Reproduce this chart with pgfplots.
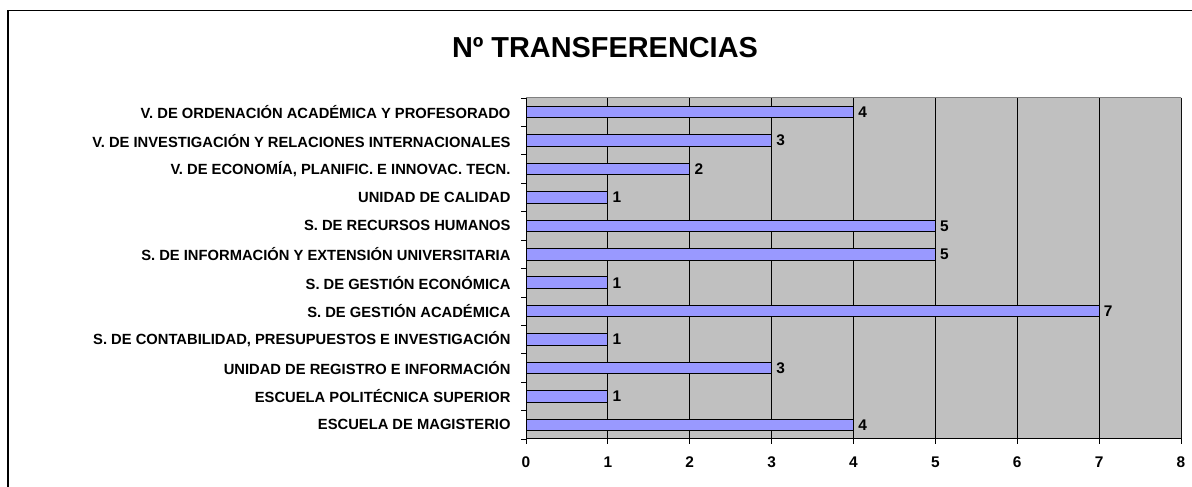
\documentclass[border=0pt]{standalone}
\usepackage{pgfplots}
\usepackage{pgfplotstable}
\pgfplotsset{compat=1.18}
\usepackage{fontspec}
\setmainfont{Liberation Sans}
\definecolor{plotgray}{HTML}{C0C0C0}
\definecolor{barblue}{HTML}{9999FF}
\definecolor{bordergray}{HTML}{808080}
\pgfplotstableread{
y v
0 4
1 1
2 3
3 1
4 7
5 1
6 5
7 5
8 1
9 2
10 3
11 4
}\datatable
\newcommand\lblfont{\fontsize{15.5}{18}\selectfont\bfseries}
\begin{document}
\begin{tikzpicture}[x=1bp,y=1bp]
\useasboundingbox (0,0) rectangle (1192,487);
\draw[line width=1.3bp] (8,0) -- (8,476.5) -- (1192,476.5);
\node[font=\bfseries\fontsize{29}{34}\selectfont, inner sep=0pt] at (605,439) {Nº TRANSFERENCIAS};
\begin{axis}[
  at={(526bp,48bp)}, anchor=south west,
  scale only axis, width=655bp, height=341bp,
  xmin=0, xmax=8, ymin=-0.5, ymax=11.5,
  xbar, bar width=11.5bp,
  axis background/.style={fill=plotgray},
  axis x line*=bottom, axis y line*=left,
  axis line style={black, line width=1bp, -},
  xtick={0,...,8},
  xticklabels={0,1,2,3,4,5,6,7,8},
  ytick={0,...,11},
  yticklabels={
    ESCUELA DE MAGISTERIO,
    ESCUELA POLITÉCNICA SUPERIOR,
    UNIDAD DE REGISTRO E INFORMACIÓN,
    {S. DE CONTABILIDAD, PRESUPUESTOS E INVESTIGACIÓN},
    S. DE GESTIÓN ACADÉMICA,
    S. DE GESTIÓN ECONÓMICA,
    S. DE INFORMACIÓN Y EXTENSIÓN UNIVERSITARIA,
    S. DE RECURSOS HUMANOS,
    UNIDAD DE CALIDAD,
    {V. DE ECONOMÍA, PLANIFIC. E INNOVAC. TECN.},
    V. DE INVESTIGACIÓN Y RELACIONES INTERNACIONALES,
    V. DE ORDENACIÓN ACADÉMICA Y PROFESORADO},
  minor ytick={-0.5,0.5,...,11.5},
  tick align=outside,
  major tick length=5bp, minor tick length=5bp,
  every major y tick/.style={draw=none},
  every minor y tick/.style={black, line width=0.8bp},
  every major x tick/.style={black, line width=0.8bp},
  xmajorgrids, grid style={black, line width=0.8bp},
  yticklabel style={font=\fontsize{14.8}{17}\selectfont\bfseries, xshift=-7bp},
  xticklabel style={font=\lblfont, yshift=-9bp},
  point meta=explicit symbolic,
  nodes near coords,
  nodes near coords align={horizontal},
  every node near coord/.append style={font=\lblfont, black, anchor=west, xshift=1bp},
]
\addplot[fill=barblue, draw=black, line width=0.9bp] table[x=v,y=y,meta=v]{\datatable};
\draw[bordergray, line width=1bp] (rel axis cs:0,1) -- (rel axis cs:1,1) -- (rel axis cs:1,0);
\end{axis}
\end{tikzpicture}
\end{document}
